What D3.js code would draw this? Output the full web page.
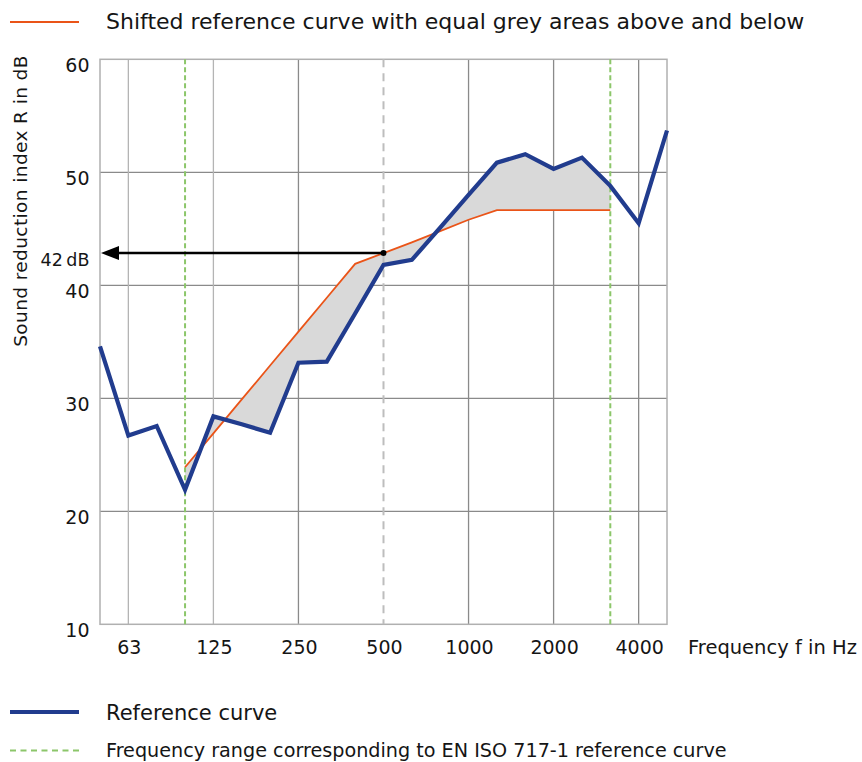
<!DOCTYPE html>
<html><head><meta charset="utf-8">
<script src="https://cdn.jsdelivr.net/npm/d3@7"></script>
<style>
body{margin:0;background:#fff;}
text{font-family:"DejaVu Sans",sans-serif;fill:#151515;}
</style></head>
<body><svg id="c" width="862" height="762"></svg>
<script>
// third-octave bands
const bands = ["50","63","80","100","125","160","200","250","315","400","500","630","800","1000","1250","1600","2000","2500","3150","4000","5000"];
// measured sound reduction index (blue curve)
const measured = [34.6,26.7,27.55,21.9,28.4,27.7,26.95,33.15,33.25,37.5,41.8,42.25,45.1,48.0,50.85,51.6,50.3,51.3,48.8,45.5,53.7];
// shifted reference curve (100 Hz .. 3150 Hz)
const refBands = ["100","125","160","200","250","315","400","500","630","800","1000","1250","1600","2000","2500","3150"];
const refValues = [23.9,26.9,29.9,32.9,35.9,38.9,41.9,42.85,43.8,44.8,45.8,46.65,46.65,46.65,46.65,46.65];
const xTickLabels = ["63","125","250","500","1000","2000","4000"];
const yTicks = [10,20,30,40,50,60];
const solidGridBands = ["63","125","250","1000","2000","4000"];
const lightGridBands = ["63","125"];
const rangeBands = ["100","3150"];
const markerBand = "500";
const markerLevel = 42.85;
const markerLabel = "42\u2009dB";

const svg = d3.select("#c");
const L=100, R=667, T=59.3, B=624.3;
const x = d3.scalePoint().domain(bands).range([L,R]);
const y = d3.scaleLinear().domain([10,60]).range([B,T]);

// horizontal grid
svg.append("g").selectAll("line").data(yTicks.filter(d=>d>10&&d<60)).join("line")
  .attr("x1",L).attr("x2",R).attr("y1",d=>y(d)).attr("y2",d=>y(d))
  .attr("stroke","#8a8a8a").attr("stroke-width",1.3);
// vertical grid
svg.append("g").selectAll("line").data(solidGridBands).join("line")
  .attr("x1",d=>x(d)).attr("x2",d=>x(d)).attr("y1",T).attr("y2",B)
  .attr("stroke",d=>lightGridBands.includes(d)?"#b4b4b4":"#8a8a8a").attr("stroke-width",1.3);
// frame
svg.append("rect").attr("x",L).attr("y",T).attr("width",R-L).attr("height",B-T)
  .attr("fill","none").attr("stroke","#b0b0b0").attr("stroke-width",1.5);

// grey area
const refMap = new Map(refBands.map((b,i)=>[b,refValues[i]]));
const areaData = refBands.map(b=>({b, r:refMap.get(b), m:measured[bands.indexOf(b)]}));
svg.append("path").datum(areaData)
  .attr("d", d3.area().x(d=>x(d.b)).y0(d=>y(d.r)).y1(d=>y(d.m)))
  .attr("fill","#d9d9d9");

// dashed lines
svg.append("line").attr("x1",x(markerBand)).attr("x2",x(markerBand)).attr("y1",T).attr("y2",B)
  .attr("stroke","#bdbdbd").attr("stroke-width",2).attr("stroke-dasharray","8,6");
svg.append("g").selectAll("line").data(rangeBands).join("line")
  .attr("x1",d=>x(d)).attr("x2",d=>x(d)).attr("y1",T).attr("y2",B)
  .attr("stroke","#8cc66a").attr("stroke-width",2).attr("stroke-dasharray","5,3");

// orange curve
svg.append("path").datum(refBands)
  .attr("d", d3.line().x(d=>x(d)).y(d=>y(refMap.get(d))))
  .attr("fill","none").attr("stroke","#ea5418").attr("stroke-width",1.8);

// arrow
const ay = y(markerLevel);
svg.append("line").attr("x1",x(markerBand)).attr("x2",L+14).attr("y1",ay).attr("y2",ay)
  .attr("stroke","#000").attr("stroke-width",2.5);
svg.append("path").attr("d",`M${L+1},${ay} L${L+19},${ay-7} L${L+19},${ay+7} Z`).attr("fill","#000");
svg.append("circle").attr("cx",x(markerBand)).attr("cy",ay).attr("r",3).attr("fill","#000");

// blue curve
svg.append("path").datum(bands)
  .attr("d", d3.line().x(d=>x(d)).y((d,i)=>y(measured[i])))
  .attr("fill","none").attr("stroke","#213c8e").attr("stroke-width",4.2).attr("stroke-linejoin","miter");

// y tick labels
svg.append("g").selectAll("text").data(yTicks).join("text")
  .attr("x",89.5).attr("y",d=>y(d)+12.5).attr("text-anchor","end")
  .style("font-size","19px").text(d=>d);
svg.append("text").attr("x",89.5).attr("y",266).attr("text-anchor","end")
  .style("font-size","17.5px").text(markerLabel);
// x tick labels
svg.append("g").selectAll("text").data(xTickLabels).join("text")
  .attr("x",d=>x(d)+1).attr("y",654).attr("text-anchor","middle")
  .style("font-size","19px").text(d=>d);
svg.append("text").attr("x",688).attr("y",654).style("font-size","19.5px").text("Frequency f in Hz");
// y axis title
svg.append("text").attr("transform","translate(27,201) rotate(-90)").attr("text-anchor","middle")
  .style("font-size","18.5px").style("letter-spacing","0.4px").text("Sound reduction index R in dB");

// legends
svg.append("line").attr("x1",10).attr("x2",79).attr("y1",22).attr("y2",22).attr("stroke","#ea5418").attr("stroke-width",1.8);
svg.append("text").attr("x",106).attr("y",29).style("font-size","22px").text("Shifted reference curve with equal grey areas above and below");
svg.append("line").attr("x1",10).attr("x2",79).attr("y1",712).attr("y2",712).attr("stroke","#213c8e").attr("stroke-width",4);
svg.append("text").attr("x",106).attr("y",719.5).style("font-size","21px").text("Reference curve");
svg.append("line").attr("x1",10).attr("x2",79).attr("y1",750.5).attr("y2",750.5).attr("stroke","#8cc66a").attr("stroke-width",2).attr("stroke-dasharray","6,4.5");
svg.append("text").attr("x",106).attr("y",757).style("font-size","19.2px").text("Frequency range corresponding to EN ISO 717-1 reference curve");
</script></body></html>
